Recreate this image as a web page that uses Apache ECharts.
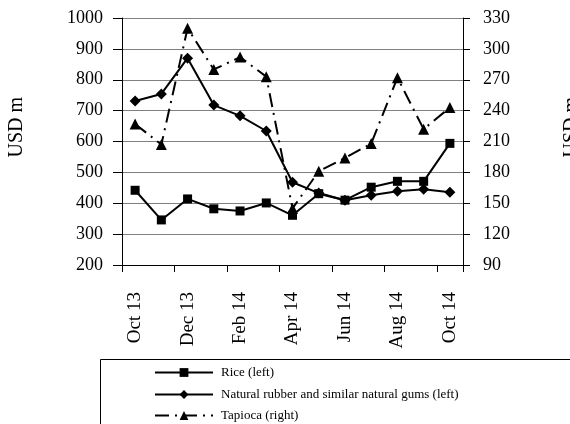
<!DOCTYPE html>
<html><head><meta charset="utf-8">
<script src="https://cdn.jsdelivr.net/npm/echarts@6/dist/echarts.min.js"></script>
<style>html,body{margin:0;padding:0;background:#fff}#c{width:570px;height:424px}</style>
</head><body><div id="c"></div>
<script>
const categories = ['Oct 13','Nov 13','Dec 13','Jan 14','Feb 14','Mar 14','Apr 14','May 14','Jun 14','Jul 14','Aug 14','Sep 14','Oct 14'];
const rice = [442, 346, 414, 382, 375, 401, 361, 431, 410, 452, 471, 471, 594];
const rubber = [731, 754, 870, 718, 683, 634, 468, 433, 410, 426, 439, 445, 436];
const tapioca = [227, 207, 320, 280, 292, 273, 145, 181, 194, 208, 272, 222, 243];
const seriesNames = ['Rice (left)', 'Natural rubber and similar natural gums (left)', 'Tapioca (right)'];
const leftTicks = {min: 200, max: 1000, interval: 100};
const rightTicks = {min: 90, max: 330, interval: 30};

const FONT = '"Liberation Serif", "Times New Roman", serif';
const chart = echarts.init(document.getElementById('c'), null, {renderer: 'canvas'});
const legendRowTops = [366, 388, 409];
chart.setOption({
  animation: false,
  backgroundColor: '#fff',
  grid: {left: 122, right: 107, top: 18, bottom: 159},
  legend: seriesNames.map((n, i) => ({
    left: 154, top: legendRowTops[i], itemWidth: 58, itemHeight: 11, padding: 0,
    textStyle: {fontFamily: FONT, fontSize: 13, color: '#000', padding: [0, 0, 0, 3]},
    data: [n]
  })),
  graphic: [
    {type: 'rect', shape: {x: 100.5, y: 359.5, width: 480, height: 80}, style: {fill: 'none', stroke: '#000', lineWidth: 1}, z: -1},
    {type: 'text', left: 7, top: 97, rotation: Math.PI/2, style: {text: 'USD m', font: '20px ' + FONT, fill: '#000'}},
    {type: 'text', left: 562, top: 97, rotation: Math.PI/2, style: {text: 'USD m', font: '20px ' + FONT, fill: '#000'}}
  ],
  xAxis: {
    type: 'category', data: categories, boundaryGap: true,
    axisLine: {lineStyle: {color: '#000', width: 1}},
    axisTick: {show: true, interval: 1, length: 7, inside: false, lineStyle: {color: '#000'}},
    axisLabel: {interval: 1, rotate: 90, margin: 27, fontFamily: FONT, fontSize: 19, color: '#000'},
    splitLine: {show: false}
  },
  yAxis: [
    {type: 'value', min: leftTicks.min, max: leftTicks.max, interval: leftTicks.interval, position: 'left',
     axisLine: {show: true, lineStyle: {color: '#000'}},
     axisTick: {show: true, length: 9, lineStyle: {color: '#000'}},
     axisLabel: {margin: 19, fontFamily: FONT, fontSize: 18, color: '#000', formatter: v => String(v)},
     splitLine: {show: true, lineStyle: {color: '#808080', width: 1}}},
    {type: 'value', min: rightTicks.min, max: rightTicks.max, interval: rightTicks.interval, position: 'right',
     axisLine: {show: true, lineStyle: {color: '#000'}},
     axisTick: {show: true, length: 7, lineStyle: {color: '#000'}},
     axisLabel: {margin: 20, fontFamily: FONT, fontSize: 18, color: '#000', formatter: v => String(v)},
     splitLine: {show: false}}
  ],
  series: [
    {name: seriesNames[0], type: 'line', yAxisIndex: 0, data: rice, symbol: 'rect', symbolSize: 9,
     lineStyle: {color: '#000', width: 2}, itemStyle: {color: '#000'}, z: 3},
    {name: seriesNames[1], type: 'line', yAxisIndex: 0, data: rubber, symbol: 'diamond', symbolSize: 11,
     lineStyle: {color: '#000', width: 2}, itemStyle: {color: '#000'}, z: 3},
    {name: seriesNames[2], type: 'line', yAxisIndex: 1, data: tapioca, symbol: 'triangle', symbolSize: 11,
     lineStyle: {color: '#000', width: 2, type: [14, 6, 2, 6]}, itemStyle: {color: '#000'}, z: 3}
  ]
});
</script></body></html>
